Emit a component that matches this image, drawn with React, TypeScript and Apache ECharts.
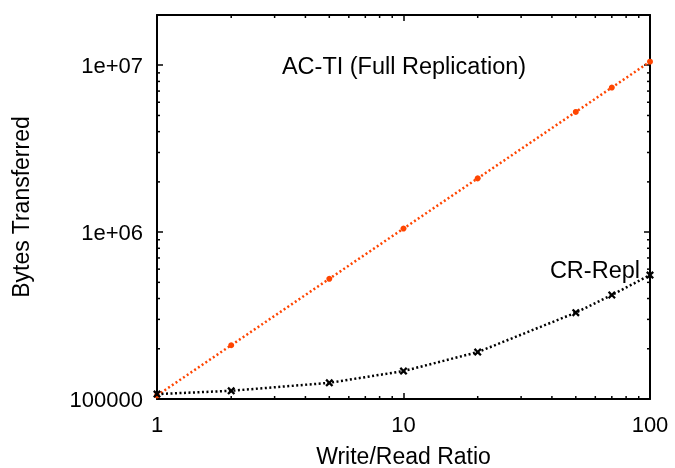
import React, { useEffect, useRef } from "react";
import * as echarts from "echarts";

const RATIOS = [1, 2, 5, 10, 20, 50, 70, 100];
const AC_TI = [105000, 210000, 525000, 1050000, 2100000, 5250000, 7350000, 10500000];
const CR_REPL = [107000, 112000, 125000, 147000, 191000, 329000, 420000, 553000];

const X_MIN = 1;
const X_MAX = 100;
const Y_MIN = 100000;
const Y_MAX = 20000000;
const X_MINOR = [2, 3, 4, 5, 6, 7, 8, 9, 20, 30, 40, 50, 60, 70, 80, 90];
const Y_MINOR = [
  200000, 300000, 400000, 500000, 600000, 700000, 800000, 900000,
  2000000, 3000000, 4000000, 5000000, 6000000, 7000000, 8000000, 9000000,
];
const X_TICK_LABELS: Record<number, string> = { 1: "1", 10: "10", 100: "100" };
const Y_TICK_LABELS: Record<number, string> = {
  100000: "100000",
  1000000: "1e+06",
  10000000: "1e+07",
};

const FONT = "Liberation Sans, Arial, Helvetica, sans-serif";
const ORANGE = "#ff4500";
const CROSS = "path://M0,2L2,0L5,3L8,0L10,2L7,5L10,8L8,10L5,7L2,10L0,8L3,5Z";

function fmt(map: Record<number, string>) {
  return (v: number) => {
    for (const k of Object.keys(map)) {
      if (Math.abs(Number(k) - v) / Number(k) < 1e-6) return map[Number(k)];
    }
    return "";
  };
}

export default function App() {
  const ref = useRef<HTMLDivElement>(null);
  useEffect(() => {
    if (!ref.current) return;
    const chart = echarts.init(ref.current, null, { renderer: "svg" });
    const axisLine = { show: true, lineStyle: { color: "#000", width: 2 } };
    const tick = { show: true, inside: true, length: 6, lineStyle: { color: "#000", width: 1.5 } };
    const label = { color: "#000", fontSize: 22, fontFamily: FONT };
    const minorTick = (axis: "x" | "y", side: "lo" | "hi") => (params: any, api: any) => {
      const cs = params.coordSys;
      const p = api.coord([api.value(0), api.value(1)]);
      const len = 3;
      let shape;
      if (axis === "x") {
        const y0 = side === "lo" ? cs.y + cs.height : cs.y;
        const y1 = side === "lo" ? y0 - len : y0 + len;
        shape = { x1: p[0], y1: y0, x2: p[0], y2: y1 };
      } else {
        const x0 = side === "lo" ? cs.x : cs.x + cs.width;
        const x1 = side === "lo" ? x0 + len : x0 - len;
        shape = { x1: x0, y1: p[1], x2: x1, y2: p[1] };
      }
      return { type: "line", shape, style: { stroke: "#000", lineWidth: 1.5 } };
    };
    chart.setOption({
      animation: false,
      grid: { left: 157, right: 25, top: 15, bottom: 69, outerBoundsMode: "none", containLabel: false },
      xAxis: [
        {
          type: "log",
          logBase: 10,
          min: X_MIN,
          max: X_MAX,
          axisLine,
          axisTick: tick,
          splitLine: { show: false },
          axisLabel: { ...label, margin: 14, formatter: fmt(X_TICK_LABELS) },
          name: "Write/Read Ratio",
          nameLocation: "middle",
          nameGap: 45,
          nameTextStyle: { color: "#000", fontSize: 23, fontFamily: FONT },
        },
        {
          type: "log",
          logBase: 10,
          min: X_MIN,
          max: X_MAX,
          position: "top",
          axisLine,
          axisTick: tick,
          splitLine: { show: false },
          axisLabel: { show: false },
        },
      ],
      yAxis: [
        {
          type: "log",
          logBase: 10,
          min: Y_MIN,
          max: Y_MAX,
          axisLine,
          axisTick: tick,
          splitLine: { show: false },
          axisLabel: { ...label, margin: 14, formatter: fmt(Y_TICK_LABELS) },
          name: "Bytes Transferred",
          nameLocation: "middle",
          nameGap: 125,
          nameRotate: 90,
          nameTextStyle: { color: "#000", fontSize: 23, fontFamily: FONT },
        },
        {
          type: "log",
          logBase: 10,
          min: Y_MIN,
          max: Y_MAX,
          position: "right",
          axisLine,
          axisTick: tick,
          splitLine: { show: false },
          axisLabel: { show: false },
        },
      ],
      series: [
        {
          type: "line",
          name: "AC-TI (Full Replication)",
          data: RATIOS.map((x, i) => [x, AC_TI[i]]),
          symbol: "circle",
          symbolSize: 6,
          itemStyle: { color: ORANGE },
          lineStyle: { color: ORANGE, width: 2.5, type: [2, 2.5] },
        },
        {
          type: "line",
          name: "CR-Repl",
          data: RATIOS.map((x, i) => [x, CR_REPL[i]]),
          symbol: CROSS,
          symbolSize: 8,
          itemStyle: { color: "#000" },
          lineStyle: { color: "#000", width: 2.5, type: [2, 2.5] },
        },
        { type: "custom", clip: false, silent: true, renderItem: minorTick("x", "lo"), data: X_MINOR.map((v) => [v, Y_MIN]) },
        { type: "custom", clip: false, silent: true, renderItem: minorTick("x", "hi"), data: X_MINOR.map((v) => [v, Y_MIN]) },
        { type: "custom", clip: false, silent: true, renderItem: minorTick("y", "lo"), data: Y_MINOR.map((v) => [X_MIN, v]) },
        { type: "custom", clip: false, silent: true, renderItem: minorTick("y", "hi"), data: Y_MINOR.map((v) => [X_MIN, v]) },
      ],
      graphic: [
        {
          type: "text",
          x: 404,
          y: 66,
          style: {
            text: "AC-TI (Full Replication)",
            fill: "#000",
            fontSize: 23.5,
            fontFamily: FONT,
            align: "center",
            verticalAlign: "middle",
          },
        },
        {
          type: "text",
          x: 640,
          y: 270,
          style: {
            text: "CR-Repl",
            fill: "#000",
            fontSize: 23.5,
            fontFamily: FONT,
            align: "right",
            verticalAlign: "middle",
          },
        },
      ],
    });
    return () => chart.dispose();
  }, []);
  return <div ref={ref} style={{ width: 675, height: 468, position: "fixed", left: 0, top: 0 }} />;
}
